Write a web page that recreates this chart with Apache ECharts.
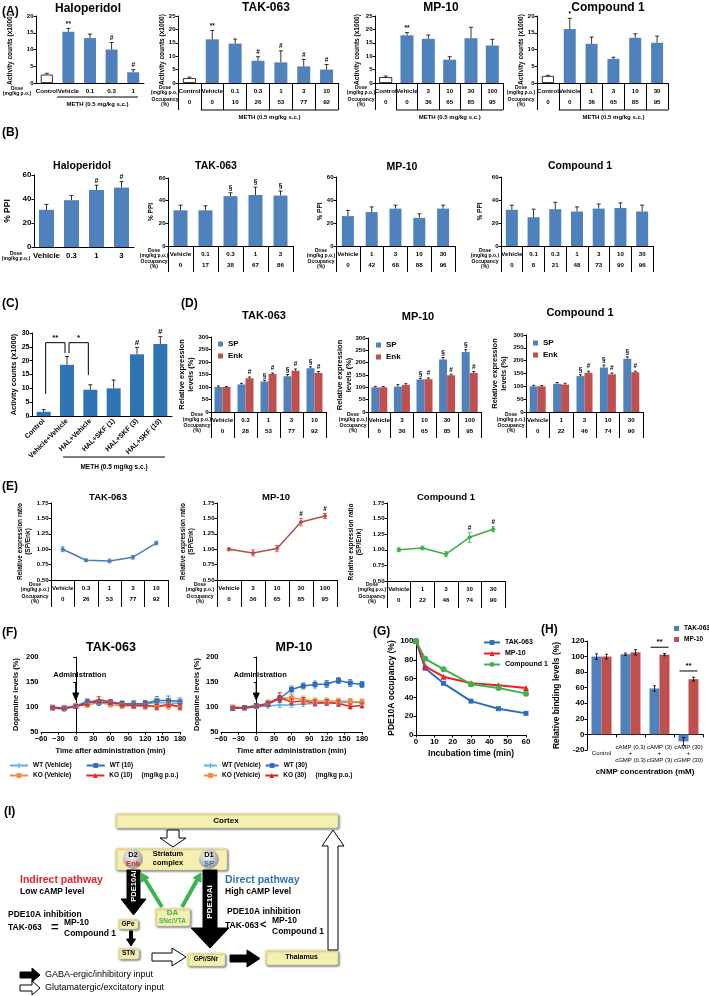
<!DOCTYPE html>
<html>
<head>
<meta charset="utf-8">
<script src="https://cdn.jsdelivr.net/npm/echarts@6/dist/echarts.min.js"></script>
<style>html,body{margin:0;padding:0;background:#fff}#fig{width:709px;height:996px}</style>
</head>
<body>
<div id="fig"></div>
<script>
// (A) locomotor activity
const aHalDose = ['Control', 'Vehicle', '0.1', '0.3', '1'];
const aHalVal = [2.5, 15.3, 13.4, 10.0, 3.2];
const aHalErr = [0.4, 1.0, 1.2, 2.1, 0.8];
const aHalSig = ['', '**', '', '#', '#'];

const aTakDose = ['Control', 'Vehicle', '0.1', '0.3', '1', '3', '10'];
const aTakOcc = [0, 0, 10, 26, 53, 77, 92];
const aTakVal = [1.8, 16.3, 14.7, 8.3, 7.7, 6.2, 5.0];
const aTakErr = [0.4, 3.3, 1.7, 1.5, 4.3, 2.6, 1.9];
const aTakSig = ['', '**', '', '#', '#', '#', '#'];

const aMpDose = ['Control', 'Vehicle', '3', '10', '30', '100'];
const aMpOcc = [0, 0, 36, 65, 85, 95];
const aMpVal = [2.2, 17.8, 16.5, 8.7, 16.7, 14.0];
const aMpErr = [0.4, 1.0, 1.4, 1.1, 4.1, 2.3];
const aMpSig = ['', '**', '', '', '', ''];

const aCpDose = ['Control', 'Vehicle', '1', '3', '10', '30'];
const aCpOcc = [0, 0, 36, 65, 85, 95];
const aCpVal = [2.1, 16.1, 11.7, 7.2, 13.5, 12.0];
const aCpErr = [0.2, 3.2, 2.0, 0.5, 1.2, 2.0];
const aCpSig = ['', '*', '', '', '', ''];

// (B) % PPI
const bHalDose = ['Vehicle', '0.3', '1', '3'];
const bHalVal = [31, 39, 47.5, 49.5];
const bHalErr = [4.5, 4, 4, 5];
const bHalSig = ['', '', '#', '#'];

const bTakDose = ['Vehicle', '0.1', '0.3', '1', '3'];
const bTakOcc = [0, 17, 38, 67, 86];
const bTakVal = [31.5, 31.5, 44, 45, 44.5];
const bTakErr = [4.5, 4, 3, 7, 4];
const bTakSig = ['', '', '§', '§', '§'];

const bMpDose = ['Vehicle', '1', '3', '10', '30'];
const bMpOcc = [0, 42, 68, 88, 96];
const bMpVal = [26, 29.5, 32.5, 24.5, 32.5];
const bMpErr = [5, 4.5, 3, 3.5, 3];

const bCpDose = ['Vehicle', '0.1', '0.3', '1', '3', '10', '30'];
const bCpOcc = [0, 8, 21, 48, 73, 90, 96];
const bCpVal = [31.5, 25, 32, 30, 32.5, 33, 30];
const bCpErr = [4, 7, 6, 4, 4, 4.5, 5.5];

// (C)
const cCats = ['Control', 'Vehicle+Vehicle', 'HAL+Vehicle', 'HAL+SKF (1)', 'HAL+SKF (3)', 'HAL+SKF (10)'];
const cVal = [1.5, 18.5, 9.5, 10, 22.3, 26];
const cErr = [0.8, 3, 1.8, 3, 2.5, 2.7];
const cSig = ['', '', '', '', '#', '#'];
const cBrackets = [[0, 1, 26.5, 8, 22.7], [1, 2, 26.5, 22.7, 14.8]];
const cBracketSig = ['**', '*'];

// (D) SP / Enk expression
const dTakDose = ['Vehicle', '0.3', '1', '3', '10'];
const dTakOcc = [0, 28, 53, 77, 92];
const dTakSp = [100, 110, 122, 143, 175];
const dTakSpErr = [4, 5, 5, 7, 6];
const dTakSpSig = ['', '', '§', '§', '§'];
const dTakEnk = [100, 135, 152, 165, 156];
const dTakEnkErr = [2, 5, 4, 7, 6];
const dTakEnkSig = ['', '#', '#', '#', '#'];

const dMpDose = ['Vehicle', '3', '10', '30', '100'];
const dMpOcc = [0, 36, 65, 85, 95];
const dMpSp = [100, 103, 132, 213, 243];
const dMpSpErr = [4, 8, 5, 8, 10];
const dMpSpSig = ['', '', '§', '§', '§'];
const dMpEnk = [100, 110, 133, 149, 158];
const dMpEnkErr = [3, 5, 5, 4, 6];
const dMpEnkSig = ['', '', '#', '#', '#'];

const dCpDose = ['Vehicle', '1', '3', '10', '30'];
const dCpOcc = [0, 22, 46, 74, 90];
const dCpSp = [100, 110, 140, 173, 207];
const dCpSpErr = [4, 5, 5, 10, 8];
const dCpSpSig = ['', '', '§', '§', '§'];
const dCpEnk = [100, 107, 153, 147, 155];
const dCpEnkErr = [3, 5, 6, 5, 4];
const dCpEnkSig = ['', '', '#', '#', '#'];

// (E) SP/Enk ratio
const eTakOcc = [0, 26, 53, 77, 92];
const eTakVal = [1.00, 0.82, 0.81, 0.87, 1.10];
const eTakErr = [0.04, 0.02, 0.03, 0.03, 0.03];
const eMpVal = [1.00, 0.94, 1.01, 1.44, 1.54];
const eMpErr = [0.02, 0.05, 0.05, 0.06, 0.04];
const eMpSig = ['', '', '', '#', '#'];
const eCpVal = [1.00, 1.03, 0.93, 1.20, 1.33];
const eCpErr = [0.03, 0.03, 0.04, 0.08, 0.04];
const eCpSig = ['', '', '', '#', '#'];

// (F) dopamine microdialysis
const fTime = [-40, -20, 0, 20, 40, 60, 80, 100, 120, 140, 160, 180];
const fTakWtVeh = [98, 95, 102, 112, 110, 108, 106, 107, 106, 109, 108, 107];
const fTakWtVehErr = [3, 4, 3, 5, 5, 6, 6, 6, 7, 8, 9, 8];
const fTakWt = [99, 98, 101, 110, 109, 110, 107, 106, 107, 113, 113, 111];
const fTakWtErr = [3, 3, 4, 5, 6, 5, 5, 6, 6, 8, 9, 7];
const fTakKoVeh = [100, 98, 103, 104, 109, 105, 102, 102, 101, 102, 102, 102];
const fTakKoVehErr = [3, 3, 3, 4, 6, 5, 5, 6, 6, 6, 7, 7];
const fTakKo = [98, 98, 101, 107, 115, 110, 105, 103, 104, 100, 106, 100];
const fTakKoErr = [3, 3, 3, 5, 6, 5, 5, 5, 6, 6, 6, 6];

const fMpWtVeh = [98, 98, 100, 102, 104, 104, 106, 107, 108, 108, 110, 108];
const fMpWtVehErr = [3, 3, 3, 4, 5, 5, 5, 5, 5, 6, 6, 6];
const fMpWt = [97, 99, 103, 106, 117, 135, 142, 145, 146, 153, 148, 145];
const fMpWtErr = [3, 3, 3, 4, 6, 7, 6, 7, 7, 6, 7, 6];
const fMpKoVeh = [100, 99, 101, 109, 118, 118, 115, 112, 112, 112, 111, 110];
const fMpKoVehErr = [3, 3, 3, 5, 8, 7, 7, 6, 6, 6, 6, 6];
const fMpKo = [99, 98, 101, 106, 119, 110, 112, 108, 109, 107, 101, 103];
const fMpKoErr = [3, 3, 3, 5, 10, 6, 7, 6, 6, 6, 5, 5];

// (G) occupancy vs incubation time
const gTime = [0, 5, 15, 30, 45, 60];
const gTak = [100, 71, 55, 36, 28, 23];
const gMp = [100, 73, 62, 55, 53, 50];
const gCp = [100, 81, 70, 54, 50, 44];

// (H) binding with cNMP
const hCats = ['Control', 'cAMP (0.3)\n+\ncGMP (0.3)', 'cAMP (3)\n+\ncGMP (3)', 'cAMP (30)\n+\ncGMP (30)'];
const hTak = [100, 103, 59, -9];
const hTakErr = [3.5, 1.5, 3.5, 5];
const hMp = [100, 105.5, 102.5, 71];
const hMpErr = [3, 3.5, 1.5, 2.5];
const hPairs = [[2, 112], [3, 81.5]];
const hPairSig = ['**', '**'];

const FONT = '"Liberation Sans", Arial, sans-serif';
const BLUE = '#4f81bd', RED = '#c0504d';

let grids = [], xAxes = [], yAxes = [], series = [], graphics = [], legends = [];

function addGrid(left, top, width, height) {
    grids.push({left: left, top: top, width: width, height: height, outerBoundsMode: 'none'});
    return grids.length - 1;
}

function catAxis(gi, cats, occ, tick, fs, extra) {
    let ax = {
        type: 'category', gridIndex: gi, data: cats,
        axisLine: {lineStyle: {color: '#000', width: 1}},
        axisTick: {show: tick > 0, length: tick, interval: 0, lineStyle: {color: '#000'}},
        axisLabel: {
            interval: 0, margin: 3, color: '#000', hideOverlap: false,
            formatter: function (v, i) {
                return occ ? '{d|' + v + '}\n{d|' + occ[i] + '}' : '{d|' + v + '}';
            },
            rich: {d: {fontSize: fs, fontWeight: 'bold', fontFamily: FONT, color: '#000', lineHeight: 11}}
        }
    };
    xAxes.push(Object.assign(ax, extra || {}));
    return xAxes.length - 1;
}

function valAxis(gi, min, max, step, name, gap, fs, nfs, fmt) {
    yAxes.push({
        type: 'value', gridIndex: gi, min: min, max: max, interval: step,
        name: name, nameLocation: 'middle', nameRotate: 90, nameGap: gap, nameMoveOverlap: false,
        nameTextStyle: {fontSize: nfs, fontWeight: 'bold', color: '#000', fontFamily: FONT, lineHeight: nfs + 1.5},
        axisLine: {show: true, lineStyle: {color: '#000'}},
        axisTick: {show: true, length: 2.5, lineStyle: {color: '#000'}},
        splitLine: {show: false},
        axisLabel: {fontSize: fs, fontWeight: 'bold', color: '#000', margin: 2.5, fontFamily: FONT, formatter: fmt, hideOverlap: false}
    });
    return yAxes.length - 1;
}

function bars(xi, yi, vals, color, w, name, hollowFirst) {
    series.push({
        type: 'bar', name: name, xAxisIndex: xi, yAxisIndex: yi, barWidth: w, barGap: '0%', silent: true,
        itemStyle: {color: color},
        data: vals.map(function (v, i) {
            if (hollowFirst && i === 0) return {value: v, itemStyle: {color: '#fff', borderColor: '#000', borderWidth: 0.8}};
            return v;
        })
    });
}

function errBars(xi, yi, vals, errs, sig, o) {
    o = o || {};
    series.push({
        type: 'custom', xAxisIndex: xi, yAxisIndex: yi, silent: true, z: 4,
        data: vals.map(function (v, i) { return [o.xs ? o.xs[i] : i, v, errs[i]]; }),
        renderItem: function (params, api) {
            let v = api.value(1), e = api.value(2);
            let dir = v < 0 ? -1 : 1;
            let top = api.coord([api.value(0), v + dir * e]);
            let bot = api.coord([api.value(0), o.both ? v - dir * e : v]);
            let x = top[0] + (o.off || 0), c = o.cap || 2;
            let st = {stroke: o.color || '#000', lineWidth: o.lw || 0.8};
            let ch = [
                {type: 'line', shape: {x1: x, y1: bot[1], x2: x, y2: top[1]}, style: st},
                {type: 'line', shape: {x1: x - c, y1: top[1], x2: x + c, y2: top[1]}, style: st}
            ];
            if (o.both) ch.push({type: 'line', shape: {x1: x - c, y1: bot[1], x2: x + c, y2: bot[1]}, style: st});
            let s = sig ? sig[params.dataIndex] : '';
            if (s) ch.push({type: 'text', style: {text: s, x: x, y: top[1] - 1, align: 'center', verticalAlign: 'bottom',
                fontSize: o.sfs || 6.5, fontWeight: 'bold', fontFamily: FONT, fill: '#000'}});
            return {type: 'group', children: ch};
        }
    });
}

function lineSer(xi, yi, xs, vals, color, sym, name, size, lw) {
    series.push({
        type: 'line', name: name, xAxisIndex: xi, yAxisIndex: yi, silent: true, z: 3,
        data: vals.map(function (v, i) { return xs ? [xs[i], v] : v; }),
        symbol: sym, symbolSize: size, showAllSymbol: true,
        lineStyle: {color: color, width: lw}, itemStyle: {color: color}
    });
}

function legend(names, left, top, orient, iw, ih, fs, gap) {
    legends.push({
        data: names, left: left, top: top, orient: orient, itemWidth: iw, itemHeight: ih, itemGap: gap,
        selectedMode: false, padding: 0,
        textStyle: {fontSize: fs, fontWeight: 'bold', color: '#000', fontFamily: FONT}
    });
}

function txt(x, y, s, size, o) {
    o = o || {};
    graphics.push({
        type: 'text', x: x, y: y, rotation: o.rot || 0, silent: true, z: o.z || 10,
        style: {text: s, fontSize: size, fontWeight: o.w || 'bold', fontFamily: FONT, fill: o.color || '#000',
            align: o.align || 'center', verticalAlign: 'middle', lineHeight: o.lh || size + 1}
    });
}

function seg(x1, y1, x2, y2, color, w) {
    graphics.push({type: 'line', silent: true, shape: {x1: x1, y1: y1, x2: x2, y2: y2}, style: {stroke: color || '#000', lineWidth: w || 1}});
}

function poly(points, fill, stroke) {
    graphics.push({type: 'polygon', silent: true, shape: {points: points}, style: {fill: fill, stroke: stroke || fill, lineWidth: 1}});
}

function box(x, y, w, h) {
    graphics.push({type: 'rect', silent: true, shape: {x: x, y: y, width: w, height: h, r: 2},
        style: {fill: '#f6efb2', stroke: '#d6cd8f', lineWidth: 0.5, shadowBlur: 2, shadowOffsetX: 1.5, shadowOffsetY: 1.5, shadowColor: 'rgba(0,0,0,0.45)'}});
}

function ball(cx, cy, r) {
    graphics.push({type: 'circle', silent: true, shape: {cx: cx, cy: cy, r: r},
        style: {fill: {type: 'radial', x: 0.4, y: 0.35, r: 0.75, colorStops: [{offset: 0, color: '#ffffff'}, {offset: 1, color: '#8a8a8a'}]}}});
}

function rowLab(x, y1, y2) {
    txt(x, y1, 'Dose\n(mg/kg p.o.)', 5, {lh: 5.5});
    if (y2) txt(x, y2, 'Occupancy\n(%)', 5, {lh: 5.5});
}

function meth(x1, x2, yl, yt, fs) {
    seg(x1, yl, x2, yl);
    txt((x1 + x2) / 2, yt, 'METH (0.5 mg/kg s.c.)', fs);
}

let g, ax, ay;

// ---------- (A) ----------
txt(2, 12, '(A)', 12, {align: 'left'});
g = addGrid(36, 16, 108, 67);
ax = catAxis(g, aHalDose, null, 0, 6.2);
ay = valAxis(g, 0, 20, 5, 'Activity counts (x1000)', 22, 6, 6.5);
bars(ax, ay, aHalVal, BLUE, 12, null, true);
errBars(ax, ay, aHalVal, aHalErr, aHalSig);
txt(88, 9, 'Haloperidol', 12);
rowLab(17, 91);
meth(57, 138, 97, 104, 6);

g = addGrid(178, 16, 160, 67);
ax = catAxis(g, aTakDose, aTakOcc, 27, 6.2);
ay = valAxis(g, 0, 25, 5, 'Activity counts (x1000)', 12, 6, 6.5);
bars(ax, ay, aTakVal, BLUE, 13, null, true);
errBars(ax, ay, aTakVal, aTakErr, aTakSig);
txt(266, 8, 'TAK-063', 12);
rowLab(165, 90, 102);
meth(178 + 160 / 7, 338, 110, 117, 6);

g = addGrid(375, 16, 128, 67);
ax = catAxis(g, aMpDose, aMpOcc, 27, 6.2);
ay = valAxis(g, 0, 25, 5, 'Activity counts (x1000)', 14, 6, 6.5);
bars(ax, ay, aMpVal, BLUE, 13, null, true);
errBars(ax, ay, aMpVal, aMpErr, aMpSig);
txt(441, 8, 'MP-10', 12);
rowLab(361, 90, 102);
meth(375 + 128 / 6, 503, 110, 117, 6);

g = addGrid(537, 16, 131, 67);
ax = catAxis(g, aCpDose, aCpOcc, 27, 6.2);
ay = valAxis(g, 0, 20, 5, 'Activity counts (x1000)', 12, 6, 6.5);
bars(ax, ay, aCpVal, BLUE, 12, null, true);
errBars(ax, ay, aCpVal, aCpErr, aCpSig);
txt(608, 8, 'Compound 1', 12);
rowLab(521, 90, 102);
meth(537 + 131 / 6, 668, 110, 117, 6);

// ---------- (B) ----------
txt(2, 133, '(B)', 12, {align: 'left'});
g = addGrid(34, 175, 100, 72);
ax = catAxis(g, bHalDose, null, 0, 7.8);
ay = valAxis(g, 0, 60, 20, '% PPI', 21, 8, 8.5);
bars(ax, ay, bHalVal, BLUE, 15);
errBars(ax, ay, bHalVal, bHalErr, bHalSig, {sfs: 7});
txt(82, 166, 'Haloperidol', 10.5);
rowLab(16, 256);

g = addGrid(168, 178, 125, 68);
ax = catAxis(g, bTakDose, bTakOcc, 26, 6.2);
ay = valAxis(g, 0, 60, 20, '% PPI', 12.5, 6, 6.5);
bars(ax, ay, bTakVal, BLUE, 14);
errBars(ax, ay, bTakVal, bTakErr, bTakSig);
txt(216, 166, 'TAK-063', 10.5);
rowLab(154, 253, 264);

g = addGrid(336, 177, 119, 69);
ax = catAxis(g, bMpDose, bMpOcc, 26, 6.2);
ay = valAxis(g, 0, 60, 20, '% PPI', 11.5, 6, 6.5);
bars(ax, ay, bMpVal, BLUE, 12);
errBars(ax, ay, bMpVal, bMpErr, null);
txt(402, 167, 'MP-10', 10.5);
rowLab(321, 253, 264);

g = addGrid(501, 177, 152, 69);
ax = catAxis(g, bCpDose, bCpOcc, 26, 6.2);
ay = valAxis(g, 0, 60, 20, '% PPI', 17, 6, 6.5);
bars(ax, ay, bCpVal, BLUE, 12);
errBars(ax, ay, bCpVal, bCpErr, null);
txt(580, 166, 'Compound 1', 10.5);
rowLab(485, 253, 264);

// ---------- (C) ----------
txt(2, 304, '(C)', 12, {align: 'left'});
g = addGrid(32, 333, 140, 83);
ax = catAxis(g, cCats, null, 0, 7, {
    axisLabel: {interval: 0, rotate: 45, margin: 4, fontSize: 7, fontWeight: 'bold', color: '#000', fontFamily: FONT}
});
ay = valAxis(g, 0, 30, 5, 'Activity counts (x1000)', 14, 7, 7.5);
bars(ax, ay, cVal, '#2f74b5', 14);
errBars(ax, ay, cVal, cErr, cSig, {sfs: 8});
series.push({
    type: 'custom', xAxisIndex: ax, yAxisIndex: ay, silent: true, z: 5,
    data: cBrackets,
    renderItem: function (params, api) {
        let a = api.coord([api.value(0), api.value(2)]);
        let b = api.coord([api.value(1), api.value(2)]);
        let la = api.coord([api.value(0), api.value(3)]);
        let lb = api.coord([api.value(1), api.value(4)]);
        return {type: 'group', children: [
            {type: 'polyline', shape: {points: [[la[0] + 2, la[1]], [a[0] + 2, a[1]], [b[0] - 2, b[1]], [lb[0] - 2, lb[1]]]},
                style: {stroke: '#000', lineWidth: 1, fill: null}},
            {type: 'text', style: {text: cBracketSig[params.dataIndex], x: (a[0] + b[0]) / 2, y: a[1] - 1, align: 'center',
                verticalAlign: 'bottom', fontSize: 8, fontWeight: 'bold', fontFamily: FONT, fill: '#000'}}
        ]};
    }
});
meth(63, 165, 457, 467, 6.5);

// ---------- (D) ----------
txt(181, 304, '(D)', 12, {align: 'left'});
const dName = 'Relative expression\nlevels (%)';
g = addGrid(211, 337, 115, 75);
ax = catAxis(g, dTakDose, dTakOcc, 26, 6.2);
ay = valAxis(g, 0, 300, 50, dName, 16, 6, 7.5);
bars(ax, ay, dTakSp, BLUE, 8, 'SP');
bars(ax, ay, dTakEnk, RED, 8, 'Enk');
errBars(ax, ay, dTakSp, dTakSpErr, dTakSpSig, {off: -4, cap: 1.5});
errBars(ax, ay, dTakEnk, dTakEnkErr, dTakEnkSig, {off: 4, cap: 1.5});
txt(264, 316, 'TAK-063', 11);
rowLab(197, 417, 428);
legend([{name: 'SP', icon: 'rect'}, {name: 'Enk', icon: 'rect'}], 218, 340, 'vertical', 5, 5, 8, 4);

g = addGrid(368, 338, 113, 74);
ax = catAxis(g, dMpDose, dMpOcc, 26, 6.2);
ay = valAxis(g, 0, 300, 50, dName, 15, 6, 7.5);
bars(ax, ay, dMpSp, BLUE, 8, 'SP');
bars(ax, ay, dMpEnk, RED, 8, 'Enk');
errBars(ax, ay, dMpSp, dMpSpErr, dMpSpSig, {off: -4, cap: 1.5});
errBars(ax, ay, dMpEnk, dMpEnkErr, dMpEnkSig, {off: 4, cap: 1.5});
txt(418, 317, 'MP-10', 11);
rowLab(353, 417, 428);
legend([{name: 'SP', icon: 'rect'}, {name: 'Enk', icon: 'rect'}], 376, 341, 'vertical', 5, 5, 8, 4);

g = addGrid(526, 335, 117, 77);
ax = catAxis(g, dCpDose, dCpOcc, 26, 6.2);
ay = valAxis(g, 0, 300, 50, dName, 18, 6, 7.5);
bars(ax, ay, dCpSp, BLUE, 8, 'SP');
bars(ax, ay, dCpEnk, RED, 8, 'Enk');
errBars(ax, ay, dCpSp, dCpSpErr, dCpSpSig, {off: -4, cap: 1.5});
errBars(ax, ay, dCpEnk, dCpEnkErr, dCpEnkSig, {off: 4, cap: 1.5});
txt(580, 313, 'Compound 1', 11);
rowLab(511, 417, 428);
legend([{name: 'SP', icon: 'rect'}, {name: 'Enk', icon: 'rect'}], 533, 339, 'vertical', 5, 5, 8, 4);

// ---------- (E) ----------
txt(2, 487, '(E)', 12, {align: 'left'});
const eName = 'Relative expression ratio\n(SP/Enk)';
const eFmt = function (v) { return v.toFixed(2); };
const eCols = ['#4a7ebb', '#be4b48', '#3dae49'];

g = addGrid(51, 503, 117, 77);
ax = catAxis(g, dTakDose, eTakOcc, 27, 6.2);
ay = valAxis(g, 0.5, 1.75, 0.25, eName, 19, 6, 6.5, eFmt);
lineSer(ax, ay, null, eTakVal, eCols[0], 'diamond', null, 5, 1.5);
errBars(ax, ay, eTakVal, eTakErr, null, {both: true, color: eCols[0], cap: 2});
txt(108, 497, 'TAK-063', 9.5);
rowLab(35, 587, 599);

g = addGrid(217, 503, 120, 77);
ax = catAxis(g, dMpDose, dMpOcc, 27, 6.2);
ay = valAxis(g, 0.5, 1.75, 0.25, eName, 22, 6, 6.5, eFmt);
lineSer(ax, ay, null, eMpVal, eCols[1], 'diamond', null, 5, 1.5);
errBars(ax, ay, eMpVal, eMpErr, eMpSig, {both: true, color: eCols[1], cap: 2});
txt(276, 497, 'MP-10', 9.5);
rowLab(200, 587, 599);

g = addGrid(387, 503, 118, 78);
ax = catAxis(g, dCpDose, dCpOcc, 27, 6.2);
ay = valAxis(g, 0.5, 1.75, 0.25, eName, 24, 6, 6.5, eFmt);
lineSer(ax, ay, null, eCpVal, eCols[2], 'diamond', null, 5, 1.5);
errBars(ax, ay, eCpVal, eCpErr, eCpSig, {both: true, color: eCols[2], cap: 2});
txt(446, 497, 'Compound 1', 9.5);
rowLab(372, 587, 599);

// ---------- (F) ----------
txt(2, 633, '(F)', 12, {align: 'left'});
const fCols = ['#5ab4e2', '#2e6fba', '#f68a3c', '#e3262b'];
const plusSym = 'path://M3,0H5V3H8V5H5V8H3V5H0V3H3Z';
const fFmt = function (v) { return v < 0 ? '\u2212' + Math.abs(v) : v; };

function fPanel(left, width, sets, title, tx, gap) {
    let gi = addGrid(left, 657, width, 75);
    xAxes.push({
        type: 'value', gridIndex: gi, min: -60, max: 180, interval: 30,
        name: 'Time after administration (min)', nameLocation: 'middle', nameGap: 15, nameMoveOverlap: false,
        nameTextStyle: {fontSize: 7.5, fontWeight: 'bold', color: '#000', fontFamily: FONT},
        axisLine: {lineStyle: {color: '#000'}}, axisTick: {length: 2.5, lineStyle: {color: '#000'}},
        splitLine: {show: false},
        axisLabel: {fontSize: 7.5, fontWeight: 'bold', color: '#000', margin: 2.5, fontFamily: FONT, formatter: fFmt, hideOverlap: false}
    });
    let xi = xAxes.length - 1;
    let yi = valAxis(gi, 50, 200, 50, 'Dopamine levels (%)', gap, 7.5, 7.5);
    sets.forEach(function (s) {
        errBars(xi, yi, s[0], s[1], null, {xs: fTime, both: true, color: s[2], cap: 2});
        lineSer(xi, yi, fTime, s[0], s[2], s[3], s[4], 5, 1.5);
    });
    txt(tx, 648, title, 12.5);
    let zx = left + 60 / 240 * width;
    txt(zx + 4, 675, 'Administration', 7.5);
    seg(zx, 682, zx, 694, '#000', 1.2);
    poly([[zx - 3, 693], [zx + 3, 693], [zx, 700]], '#000');
}

fPanel(41, 139, [
    [fTakWtVeh, fTakWtVehErr, fCols[0], plusSym, 'WT (Vehicle)'],
    [fTakKoVeh, fTakKoVehErr, fCols[2], 'rect', 'KO (Vehicle)'],
    [fTakWt, fTakWtErr, fCols[1], 'rect', 'WT (10)'],
    [fTakKo, fTakKoErr, fCols[3], 'triangle', 'KO (10)']
], 'TAK-063', 111, 21);
legend(['WT (Vehicle)', 'WT (10)'], 9, 762, 'horizontal', 18, 6, 6.5, 14);
legend(['KO (Vehicle)', 'KO (10)'], 9, 772, 'horizontal', 18, 6, 6.5, 14);
txt(160, 775, '(mg/kg p.o.)', 6.5);

fPanel(221, 141, [
    [fMpWtVeh, fMpWtVehErr, fCols[0], plusSym, 'WT (Vehicle)'],
    [fMpKoVeh, fMpKoVehErr, fCols[2], 'rect', 'KO (Vehicle)'],
    [fMpWt, fMpWtErr, fCols[1], 'rect', 'WT (30)'],
    [fMpKo, fMpKoErr, fCols[3], 'triangle', 'KO (30)']
], 'MP-10', 294, 20);
legend(['WT (Vehicle)', 'WT (30)'], 203, 762, 'horizontal', 13, 6, 6.5, 4);
legend(['KO (Vehicle)', 'KO (30)'], 203, 772, 'horizontal', 13, 6, 6.5, 4);
txt(334, 775, '(mg/kg p.o.)', 6.5);

// ---------- (G) ----------
txt(373, 632, '(G)', 12, {align: 'left'});
g = addGrid(416, 641, 110, 94);
xAxes.push({
    type: 'value', gridIndex: g, min: 0, max: 60, interval: 10,
    name: 'Incubation time (min)', nameLocation: 'middle', nameGap: 14, nameMoveOverlap: false,
    nameTextStyle: {fontSize: 8.5, fontWeight: 'bold', color: '#000', fontFamily: FONT},
    axisLine: {lineStyle: {color: '#000'}}, axisTick: {length: 2.5, lineStyle: {color: '#000'}},
    splitLine: {show: false},
    axisLabel: {fontSize: 8, fontWeight: 'bold', color: '#000', margin: 3, fontFamily: FONT, hideOverlap: false}
});
ax = xAxes.length - 1;
ay = valAxis(g, 0, 100, 20, 'PDE10A occupancy (%)', 19, 8, 8.5);
lineSer(ax, ay, gTime, gTak, '#2e6fba', 'rect', 'TAK-063', 5, 2);
lineSer(ax, ay, gTime, gMp, '#e3262b', 'triangle', 'MP-10', 6, 2);
lineSer(ax, ay, gTime, gCp, '#3cb44b', 'circle', 'Compound 1', 6, 2);
legend(['TAK-063', 'MP-10', 'Compound 1'], 483, 639, 'vertical', 16, 6, 7, 4);

// ---------- (H) ----------
txt(541, 630, '(H)', 12, {align: 'left'});
g = addGrid(587, 641, 116, 109);
ax = catAxis(g, hCats, null, 3, 6, {axisLabel: {show: false}});
xAxes.push({
    type: 'category', gridIndex: g, data: hCats, position: 'bottom', offset: -8,
    axisLine: {show: false, onZero: false}, axisTick: {show: false},
    axisLabel: {interval: 0, fontSize: 6, color: '#000', lineHeight: 6.5, margin: 2, fontFamily: FONT,
        formatter: function (v) { return v.indexOf('\n') < 0 ? '\n' + v + '\n' : v; }},
    name: 'cNMP concentration (mM)', nameLocation: 'middle', nameGap: 26, nameMoveOverlap: false,
    nameTextStyle: {fontSize: 8, fontWeight: 'bold', color: '#000', fontFamily: FONT}
});
ay = valAxis(g, -20, 120, 20, 'Relative binding levels (%)', 25, 8, 8.5);
bars(ax, ay, hTak, BLUE, 10, 'TAK-063');
bars(ax, ay, hMp, RED, 10, 'MP-10');
errBars(ax, ay, hTak, hTakErr, null, {off: -5, both: true, cap: 1.5});
errBars(ax, ay, hMp, hMpErr, null, {off: 5, both: true, cap: 1.5});
series.push({
    type: 'custom', xAxisIndex: ax, yAxisIndex: ay, silent: true, z: 5,
    data: hPairs,
    renderItem: function (params, api) {
        let p = api.coord([api.value(0), api.value(1)]);
        return {type: 'group', children: [
            {type: 'line', shape: {x1: p[0] - 9, y1: p[1], x2: p[0] + 9, y2: p[1]}, style: {stroke: '#000', lineWidth: 1}},
            {type: 'text', style: {text: hPairSig[params.dataIndex], x: p[0], y: p[1] - 1, align: 'center',
                verticalAlign: 'bottom', fontSize: 8, fontWeight: 'bold', fontFamily: FONT, fill: '#000'}}
        ]};
    }
});
legends.push({
    data: [{name: 'TAK-063', icon: 'rect', itemStyle: {color: BLUE}}, {name: 'MP-10', icon: 'rect', itemStyle: {color: RED}}],
    left: 674, top: 625, orient: 'vertical', itemWidth: 5, itemHeight: 5, itemGap: 4, selectedMode: false, padding: 0,
    textStyle: {fontSize: 6.5, fontWeight: 'bold', color: '#000', fontFamily: FONT}
});

// ---------- (I) schematic ----------
txt(4, 812, '(I)', 12, {align: 'left'});
box(115, 813, 223, 15);
txt(226, 821, 'Cortex', 8);
poly([[167, 830], [179, 830], [179, 838], [186, 838], [173, 847], [160, 838], [167, 838]], '#fff', '#000');
box(115, 848, 112, 22);
txt(168, 854, 'Striatum', 7.5);
txt(168, 863, 'complex', 7.5);
ball(133, 859, 10);
txt(133, 855, 'D2', 7.5);
txt(133, 864, 'Enk', 7.5, {color: '#e3262b'});
ball(209, 859, 10);
txt(209, 855, 'D1', 7.5);
txt(209, 864, 'SP', 7.5, {color: '#2e75b6'});

poly([[127, 870], [140, 870], [140, 899], [146, 899], [133.5, 915], [121, 899], [127, 899]], '#000');
txt(133.5, 886, 'PDE10Ai', 7.5, {color: '#fff', rot: Math.PI / 2});
poly([[203, 870], [217, 870], [217, 928], [229, 928], [210, 948], [191, 928], [203, 928]], '#000');
txt(210, 902, 'PDE10Ai', 8, {color: '#fff', rot: Math.PI / 2});

seg(162, 907, 145.2, 879.8, '#3cb44b', 4);
poly([[141, 873], [149, 877.5], [141.4, 882.2]], '#3cb44b');
seg(182, 907, 197.1, 880, '#3cb44b', 4);
poly([[201, 873], [201, 882.2], [193.2, 877.8]], '#3cb44b');

box(155, 908, 35, 18);
txt(172.5, 913, 'DA', 8, {color: '#3cb44b'});
txt(172.5, 921.5, 'SNc/VTA', 6.5, {color: '#3cb44b'});
box(118, 919, 20, 10);
txt(128, 924, 'GPe', 6.5);
poly([[129.5, 931], [132.5, 931], [132.5, 939], [135.5, 939], [131, 946], [126.5, 939], [129.5, 939]], '#000');
box(118, 948, 21, 11);
txt(128.5, 953.5, 'STN', 6.5);
poly([[152, 953], [172, 953], [172, 948], [186, 957], [172, 966], [172, 961], [152, 961]], '#fff', '#000');
box(187, 953, 38, 13);
txt(206, 959.5, 'GPi/SNr', 6.5);
poly([[230, 955], [247, 955], [247, 950], [260, 958.5], [247, 967], [247, 962], [230, 962]], '#000');
box(265, 950, 73, 15);
txt(301.5, 957.5, 'Thalamus', 7);
poly([[328, 950], [338, 950], [338, 846], [344, 846], [333, 830], [322, 846], [328, 846]], '#fff', '#000');

txt(20, 880, 'Indirect pathway', 10.5, {align: 'left', color: '#e3262b'});
txt(20, 892, 'Low cAMP level', 8.5, {align: 'left'});
txt(225, 880, 'Direct pathway', 10.5, {align: 'left', color: '#2e75b6'});
txt(225, 892, 'High cAMP level', 8.5, {align: 'left'});
txt(8, 915, 'PDE10A inhibition', 8.5, {align: 'left'});
txt(8, 928, 'TAK-063', 8.5, {align: 'left'});
txt(51, 927, '=', 13, {align: 'left'});
txt(64, 923, 'MP-10', 8.5, {align: 'left'});
txt(64, 934, 'Compound 1', 8.5, {align: 'left'});
txt(227, 912, 'PDE10A inhibition', 8.5, {align: 'left'});
txt(225, 926, 'TAK-063', 8.5, {align: 'left'});
txt(260, 925, '<', 11, {align: 'left'});
txt(272, 921, 'MP-10', 8.5, {align: 'left'});
txt(272, 932, 'Compound 1', 8.5, {align: 'left'});

poly([[20, 972], [32, 972], [32, 968], [40, 975], [32, 982], [32, 978], [20, 978]], '#000');
txt(45, 975, 'GABA-ergic/inhibitory input', 9, {align: 'left', w: 'normal'});
poly([[20, 985], [32, 985], [32, 981], [40, 988], [32, 995], [32, 991], [20, 991]], '#fff', '#000');
txt(45, 988, 'Glutamatergic/excitatory input', 9, {align: 'left', w: 'normal'});

echarts.init(document.getElementById('fig')).setOption({
    animation: false,
    textStyle: {fontFamily: FONT},
    grid: grids,
    xAxis: xAxes,
    yAxis: yAxes,
    legend: legends,
    series: series,
    graphic: graphics
});
</script>
</body>
</html>
